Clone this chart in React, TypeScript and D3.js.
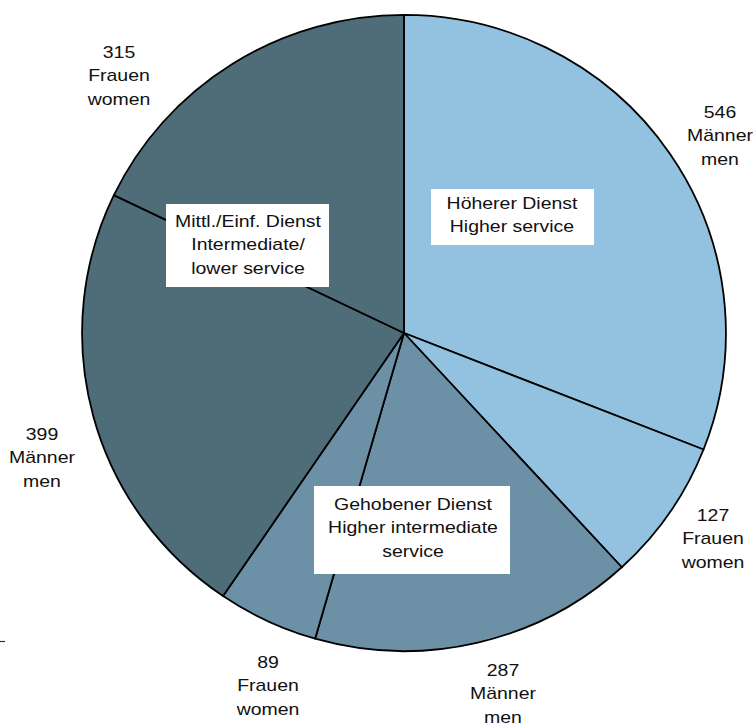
import React from "react";
import * as d3 from "d3";

// Staff by career group and sex, clockwise from 12 o'clock
const groups = ["hoeher", "hoeher", "gehoben", "gehoben", "mittel", "mittel"];
const values = [546, 127, 287, 89, 399, 315];
const sexDe = ["Männer", "Frauen", "Männer", "Frauen", "Männer", "Frauen"];
const sexEn = ["men", "women", "men", "women", "men", "women"];

// Career group names (German / English)
const groupLabels = [
  ["Höherer Dienst", "Higher service"],
  ["Gehobener Dienst", "Higher intermediate", "service"],
  ["Mittl./Einf. Dienst", "Intermediate/", "lower service"],
];

const W = 753;
const H = 726;
const cx = 404;
const cy = 333;
const R = 320;

const colors: Record<string, string> = {
  hoeher: "#92c2df",
  gehoben: "#6c91a6",
  mittel: "#4f6c79",
};

// Anchor for each outside value label (first-line baseline)
const valueLabelPos = [
  { x: 720, y: 118 },
  { x: 713, y: 521 },
  { x: 503, y: 676 },
  { x: 268, y: 668 },
  { x: 42, y: 440 },
  { x: 119, y: 58 },
];

// White label boxes for the career groups
const groupBoxes = [
  { x: 431, y: 189, w: 163, h: 56, tx: 512, ty: 209 },
  { x: 314, y: 486, w: 196, h: 88, tx: 413, ty: 510 },
  { x: 166, y: 204, w: 163, h: 83, tx: 248, ty: 227 },
];

const FONT = "'Liberation Sans', Arial, Helvetica, sans-serif";
const FS = 17;
const SX = 1.145;
const LH = 23.5;

function Lines({ x, y, lines }: { x: number; y: number; lines: string[] }) {
  return (
    <g transform={`translate(${x},${y}) scale(${SX},1)`}>
      <text
        textAnchor="middle"
        fontFamily={FONT}
        fontSize={FS}
        fill="#111"
      >
        {lines.map((l, i) => (
          <tspan key={i} x={0} y={i * LH}>
            {l}
          </tspan>
        ))}
      </text>
    </g>
  );
}

export default function App() {
  const slices = values.map((v, i) => ({ value: v, group: groups[i], i }));
  const pie = d3
    .pie<{ value: number; group: string; i: number }>()
    .sort(null)
    .value((d) => d.value)
    .startAngle(0)
    .endAngle(2 * Math.PI);
  const arcs = pie(slices);
  const arc = d3
    .arc<d3.PieArcDatum<{ value: number; group: string; i: number }>>()
    .innerRadius(0)
    .outerRadius(R);

  return (
    <svg
      width={W}
      height={H}
      style={{ position: "absolute", left: 0, top: 0, background: "#fff" }}
    >
      <g transform={`translate(${cx},${cy}) scale(1.006,0.994)`}>
        {arcs.map((a, k) => (
          <path
            key={k}
            d={arc(a) || ""}
            fill={colors[a.data.group]}
            stroke="#000"
            strokeWidth={1.8}
            strokeLinejoin="round"
          />
        ))}
      </g>

      {groupBoxes.map((b, k) => (
        <g key={k}>
          <rect x={b.x} y={b.y} width={b.w} height={b.h} fill="#fff" />
          <Lines x={b.tx} y={b.ty} lines={groupLabels[k]} />
        </g>
      ))}

      {values.map((v, i) => (
        <Lines
          key={i}
          x={valueLabelPos[i].x}
          y={valueLabelPos[i].y}
          lines={[String(v), sexDe[i], sexEn[i]]}
        />
      ))}

      <line x1={0} x2={5} y1={641.5} y2={641.5} stroke="#333" strokeWidth={1.2} />
    </svg>
  );
}
